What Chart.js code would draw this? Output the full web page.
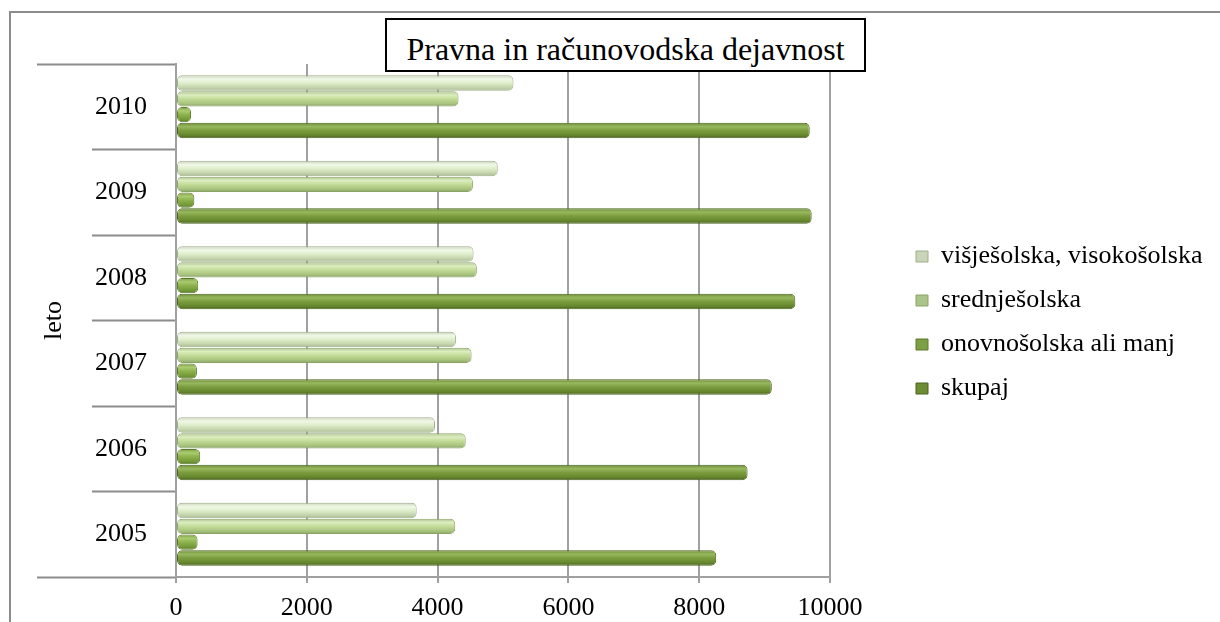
<!DOCTYPE html>
<html>
<head>
<meta charset="utf-8">
<script src="https://cdn.jsdelivr.net/npm/chart.js@4.4.0/dist/chart.umd.min.js"></script>
<style>
  html, body { margin: 0; padding: 0; background: #fff; overflow: hidden; }
  #wrap { position: relative; width: 1220px; height: 622px; }
  #frame { position: absolute; left: 9px; top: 11px; width: 1300px; height: 700px;
           border-top: 2px solid #8c8c8c; border-left: 2px solid #8c8c8c; }
  #chart { position: absolute; left: 0; top: 0; }
  #title { position: absolute; left: 385px; top: 18px; width: 481px; height: 54px;
           box-sizing: border-box; border: 2px solid #000; background: #fff;
           font-family: "Liberation Serif", Tinos, "Times New Roman", Times, "DejaVu Serif", serif;
           font-size: 32px; text-align: center;
           padding-top: 8px; line-height: 42px; white-space: nowrap; }
</style>
</head>
<body>
<div id="wrap">
  <div id="frame"></div>
  <canvas id="chart" width="1220" height="622"></canvas>
  <div id="title">Pravna in računovodska dejavnost</div>
</div>
<script>
var years = ['2005', '2006', '2007', '2008', '2009', '2010'];
var visje = [3680, 3960, 4280, 4550, 4920, 5160];
var srednje = [4270, 4430, 4520, 4600, 4540, 4320];
var osnovno = [330, 370, 320, 340, 280, 230];
var skupaj = [8260, 8740, 9110, 9470, 9720, 9690];
var xTicks = [0, 2000, 4000, 6000, 8000, 10000];

Chart.defaults.font.family = '"Liberation Serif", Tinos, "Times New Roman", Times, "DejaVu Serif", serif';
Chart.defaults.font.size = 26;
Chart.defaults.color = '#000';

// vertical gradient on each bar so it looks like a cylinder
function cylinder(stops) {
  return function(c) {
    var meta = c.chart.getDatasetMeta(c.datasetIndex);
    var el = meta.data[c.dataIndex];
    if (!el || el.y == null || !el.height) return stops[2];
    var g = c.chart.ctx.createLinearGradient(0, el.y - el.height / 2, 0, el.y + el.height / 2);
    g.addColorStop(0, stops[0]);
    g.addColorStop(0.25, stops[1]);
    g.addColorStop(0.5, stops[2]);
    g.addColorStop(0.8, stops[3]);
    g.addColorStop(1, stops[4]);
    return g;
  };
}

function series(label, data, stops, border) {
  return {
    label: label,
    data: data,
    backgroundColor: cylinder(stops),
    borderColor: border,
    borderWidth: 1,
    borderRadius: 5,
    borderSkipped: false,
    categoryPercentage: 0.74,
    barPercentage: 0.97
  };
}

var legendShift = {
  id: 'legendShift',
  afterInit: function(chart) {
    var fit = chart.legend.fit;
    chart.legend.fit = function() {
      fit.call(this);
      this.width = 390;
    };
  },
  afterLayout: function(chart) {
    chart.legend.left = 898;
    chart.legend.top += 2;
    chart.legend.bottom += 2;
  }
};

var chart = new Chart(document.getElementById('chart'), {
  type: 'bar',
  data: {
    labels: years,
    datasets: [
      series('višješolska, visokošolska', visje, ['#c9d5b9', '#f1f8e8', '#dfeecb', '#c3d4ab', '#a9b893'], '#9fae8a'),
      series('srednješolska', srednje, ['#aac48a', '#dcedc0', '#c3dc98', '#a9c47e', '#8aa367'], '#8aa367'),
      series('onovnošolska ali manj', osnovno, ['#7d9f45', '#aacb70', '#8db24d', '#749a38', '#5a7a29'], '#5a7a29'),
      series('skupaj', skupaj, ['#6d8c33', '#98b860', '#7c9d3e', '#66872d', '#4b6520'], '#4b6520')
    ]
  },
  options: {
    indexAxis: 'y',
    responsive: false,
    animation: false,
    layout: { padding: { top: 64, left: 0, right: 0, bottom: 0 } },
    plugins: {
      legend: {
        position: 'right',
        fullSize: false,
        labels: {
          boxWidth: 12,
          boxHeight: 11,
          padding: 18,
          font: { size: 26 }
        }
      },
      tooltip: { enabled: false }
    },
    scales: {
      x: {
        min: 0,
        max: 10000,
        afterBuildTicks: function(scale) {
          scale.ticks = xTicks.map(function(v) { return { value: v }; });
        },
        afterFit: function(scale) { scale.height = 45; },
        grid: { color: '#a0a0a0', lineWidth: 2, tickLength: 6, tickColor: '#a0a0a0' },
        border: { color: '#a0a0a0', width: 2 },
        ticks: {
          padding: 10,
          font: { size: 26 },
          callback: function(v) { return String(v); }
        }
      },
      y: {
        reverse: true,
        afterFit: function(scale) { scale.width = 176; },
        grid: {
          drawOnChartArea: false,
          tickLength: 139,
          tickColor: '#8c8c8c',
          tickWidth: 2,
          tickBorderDash: function(c) {
            return (c.index === 0 || c.index === undefined) ? [] : [0, 55, 300];
          }
        },
        border: { color: '#a0a0a0', width: 2 },
        ticks: { padding: -110, font: { size: 26 } },
        title: {
          display: true,
          text: 'leto',
          font: { size: 26 },
          padding: { top: 39, bottom: 0 }
        }
      }
    }
  },
  plugins: [legendShift]
});

// second pass so the gradients can use the bar positions
chart.update('none');
</script>
</body>
</html>
